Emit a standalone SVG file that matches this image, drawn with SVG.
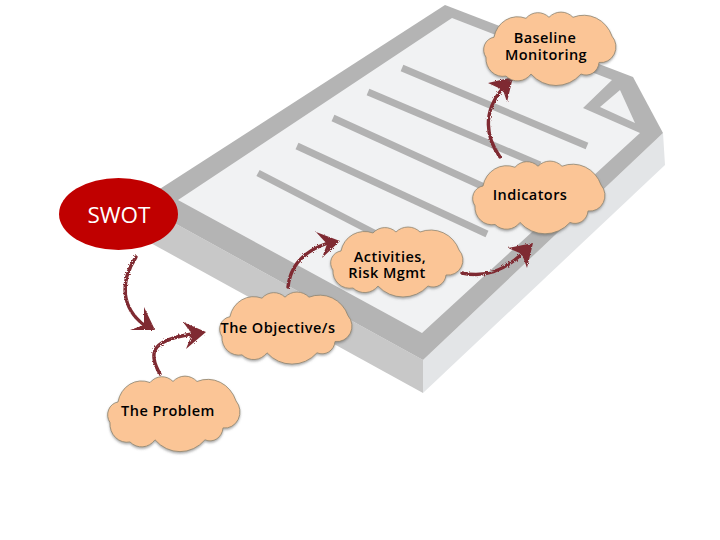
<svg xmlns="http://www.w3.org/2000/svg" width="720" height="540" viewBox="0 0 720 540">
<style>
.band{fill:#b4b4b4}
.face{fill:#f1f2f3}
.sideL{fill:#c8c8c8}
.sideR{fill:#e3e5e7}
.stripe{stroke:#b2b2b2;stroke-width:7;fill:none}
.cloud{fill:#fbc596;stroke:#8f8672;stroke-width:0.8;filter:url(#shadow)}
.label{font-family:"Open Sans","Liberation Sans",sans-serif;font-size:14.5px;font-weight:600;fill:#000;text-anchor:middle;letter-spacing:.45px}
.swot{font-family:"Open Sans","Liberation Sans",sans-serif;font-size:22.5px;font-weight:500;fill:#fff;text-anchor:middle}
.shaft{fill:none;stroke:#7f2b31;stroke-width:3.4;stroke-linecap:round}
.head{fill:#7f2b31}
</style>
<defs>
<filter id="shadow" x="-10%" y="-10%" width="120%" height="125%"><feDropShadow dx="0" dy="1.5" stdDeviation="1" flood-color="#555" flood-opacity="0.5"/></filter>
<filter id="rough" x="-10%" y="-10%" width="120%" height="120%"><feTurbulence type="fractalNoise" baseFrequency="0.7" numOctaves="2" seed="4"/><feDisplacementMap in="SourceGraphic" scale="3"/></filter>
<path id="cloudShape" d="M13 25A24 24 0 0 1 45 7A16 16 0 0 1 68 6A17 17 0 0 1 92 6A30 30 0 0 1 131 24A15 15 0 0 1 118 49A13 13 0 0 1 100 60A34 34 0 0 1 50 60A17 17 0 0 1 25 62A17 17 0 0 1 5 44A12 12 0 0 1 13 25Z"/>
</defs>
<rect width="720" height="540" fill="#fff"/>
<g id="document">
<polygon class="sideL" points="138,203 423,360 423,393 138,236"/>
<polygon class="sideR" points="423,360 663,133 665,165 423,393"/>
<polygon class="band" points="445,5 633,77 663,133 423,360 138,203"/>
<polygon class="face" points="452,18 612,80 583,108 640,133 422,333 178,200"/>
<polygon class="face" points="600,107 620,90 635,123"/>
<line class="stripe" x1="258" y1="173" x2="380" y2="236"/>
<line class="stripe" x1="297" y1="146" x2="487" y2="234"/>
<line class="stripe" x1="333" y1="118" x2="495" y2="192"/>
<line class="stripe" x1="368" y1="92" x2="540" y2="165"/>
<line class="stripe" x1="402" y1="68" x2="587" y2="146"/>
</g>
<g id="connectors" filter="url(#rough)">
<path class="shaft" d="M500 157C486 138 482 112 503 88"/>
<polygon class="head" points="513,77 507,102 503,90 488,83"/>
<path class="shaft" d="M136 257C119 283 122 308 144 325"/>
<polygon class="head" points="155,330 130,330 144,325 144,307"/>
<path class="shaft" d="M160 374C146 350 155 340 192 334"/>
<polygon class="head" points="206,332 186,349 192,334 183,322"/>
<path class="shaft" d="M288 287C290 268 301 252 328 243"/>
<polygon class="head" points="340,241 322,258 327,244 316,232"/>
<path class="shaft" d="M462 273C485 278 503 271 522 254"/>
<polygon class="head" points="533,243 527,268 522,254 508,248"/>
</g>
<g id="swot">
<ellipse cx="118.5" cy="214" rx="59.5" ry="36" fill="#c00000"/>
<text class="swot" x="119" y="223">SWOT</text>
</g>
<g id="baseline-monitoring">
<use href="#cloudShape" class="cloud" transform="translate(481,11) scale(1,1.05)"/>
<text class="label"><tspan x="545" y="43">Baseline</tspan><tspan x="546" y="60">Monitoring</tspan></text>
</g>
<g id="indicators">
<use href="#cloudShape" class="cloud" transform="translate(470,160) scale(1,1.04)"/>
<text class="label" x="530" y="200">Indicators</text>
</g>
<g id="activities">
<use href="#cloudShape" class="cloud" transform="translate(328,226)"/>
<text class="label"><tspan x="390" y="262">Activities,</tspan><tspan x="387" y="278">Risk Mgmt</tspan></text>
</g>
<g id="objective">
<use href="#cloudShape" class="cloud" transform="translate(217,291) scale(1,1.03)"/>
<text class="label" x="278" y="333">The Objective/s</text>
</g>
<g id="problem">
<use href="#cloudShape" class="cloud" transform="translate(105,375) scale(1,1.08)"/>
<text class="label" x="168" y="416">The Problem</text>
</g>
</svg>
